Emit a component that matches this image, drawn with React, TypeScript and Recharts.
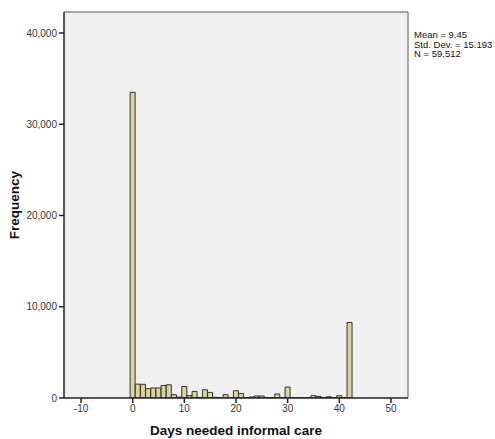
import React from 'react';
import {Bar, BarChart, CartesianGrid, XAxis, YAxis} from 'recharts';

const days = [
    0, 1, 2, 3, 4, 5, 6, 7, 8, 9, 10, 11, 12, 13, 14, 15, 16, 17, 18, 19, 20,
    21, 22, 23, 24, 25, 26, 27, 28, 29, 30, 31, 32, 33, 34, 35, 36, 37, 38, 39, 40, 41, 42
];
const frequency = [
    33500, 1520, 1500, 1020, 1100, 1100, 1370, 1450, 360, 100, 1260,
    260, 720, 60, 900, 610, 80, 20, 360, 30, 800,
    500, 40, 110, 220, 220, 40, 20, 440, 30, 1200,
    40, 30, 20, 40, 260, 180, 60, 140, 40, 250, 20, 8280
];
const xTicks = [-10, 0, 10, 20, 30, 40, 50];
const yTicks = [0, 10000, 20000, 30000, 40000];
const stats = ['Mean = 9.45', 'Std. Dev. = 15.193', 'N = 59,512'];

const histData = days.map((d, i) => ({day: d, count: frequency[i]}));

const font = '"Liberation Sans", Arial, sans-serif';

const App = () => {
    return (
        <div style={{position: 'absolute', left: 0, top: 0, width: 495, height: 439, fontFamily: font}}>
            <BarChart
                width={495}
                height={439}
                data={histData}
                margin={{top: 12, right: 87, left: 0, bottom: 0}}
                barCategoryGap={0}
                barGap={0}
            >
                {/* background + top/right frame lines taken from the plot offset */}
                <CartesianGrid
                    fill="#F0F0F0"
                    fillOpacity={1}
                    stroke="#8a8a8a"
                    strokeWidth={1.5}
                    horizontalCoordinatesGenerator={({offset}: any) => [offset.top]}
                    verticalCoordinatesGenerator={({offset}: any) => [offset.left + offset.width]}
                />
                <XAxis
                    dataKey="day"
                    type="number"
                    domain={[-13.3, 53.3]}
                    ticks={xTicks}
                    allowDataOverflow
                    height={41}
                    tickSize={5}
                    stroke="#222"
                    strokeWidth={1.5}
                    tick={{fill: '#333', fontSize: 10, fontFamily: font}}
                    label={{
                        value: 'Days needed informal care',
                        position: 'insideBottom',
                        offset: 4,
                        style: {fontSize: 13.5, fontWeight: 'bold', fill: '#111', fontFamily: font}
                    }}
                />
                <YAxis
                    type="number"
                    domain={[0, 42300]}
                    ticks={yTicks}
                    allowDataOverflow
                    width={64}
                    tickSize={5}
                    stroke="#222"
                    strokeWidth={1.5}
                    tickFormatter={(v) => v.toLocaleString('en-US')}
                    tick={{fill: '#333', fontSize: 10, fontFamily: font}}
                    label={{
                        content: ({viewBox}: any) => {
                            const cx = viewBox.x + 14;
                            const cy = viewBox.y + viewBox.height / 2;
                            return (
                                <text
                                    x={cx}
                                    y={cy}
                                    transform={`rotate(-90 ${cx} ${cy})`}
                                    textAnchor="middle"
                                    dominantBaseline="central"
                                    style={{fontSize: 13.5, fontWeight: 'bold', fill: '#111', fontFamily: font}}
                                >
                                    Frequency
                                </text>
                            );
                        }
                    }}
                />
                <Bar
                    dataKey="count"
                    fill="#D8D49E"
                    stroke="#333"
                    strokeWidth={1}
                    isAnimationActive={false}
                />
            </BarChart>
            <div style={{position: 'absolute', left: 414, top: 30, fontSize: 9.5, lineHeight: '9.5px', color: '#111'}}>
                {stats.map((s) => (
                    <div key={s}>{s}</div>
                ))}
            </div>
        </div>
    );
};

export default App;
